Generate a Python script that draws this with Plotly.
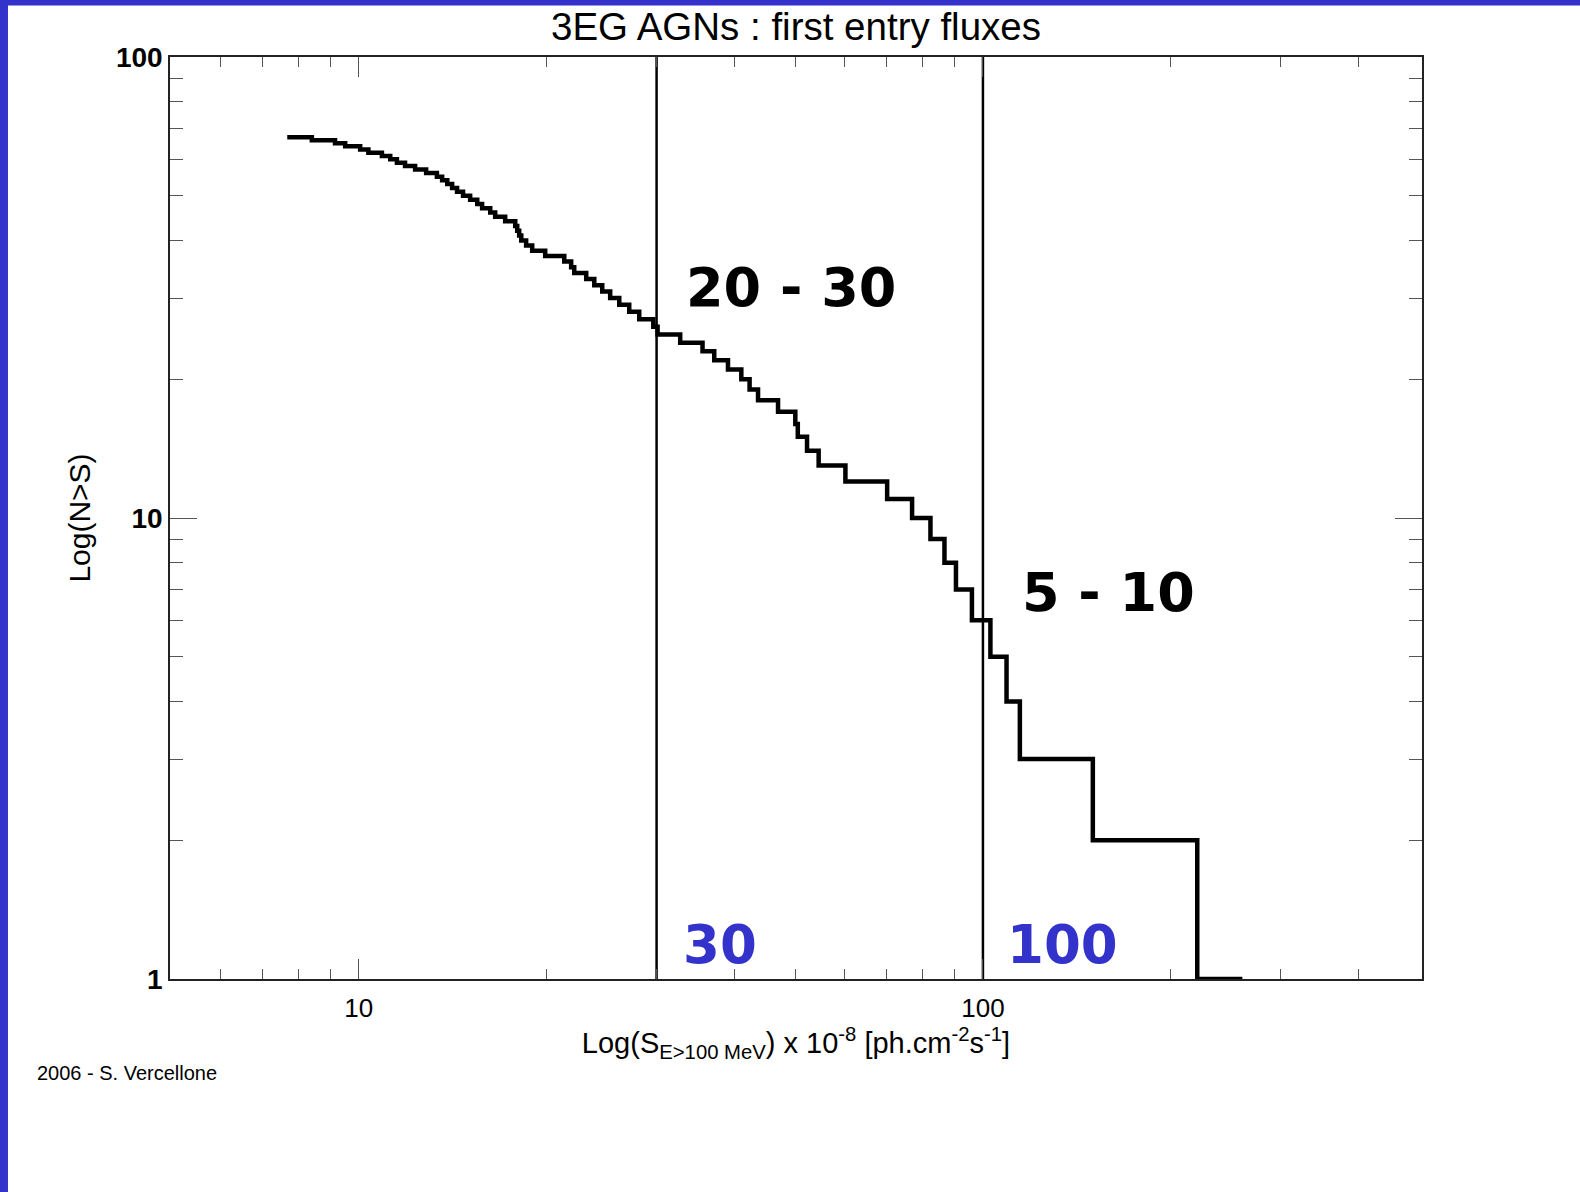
import numpy as np
import plotly.graph_objects as go

# ---- data ----
flux_edges = [7.68, 8.41, 9.16, 9.51, 10.05, 10.36, 10.89, 11.23, 11.51, 11.86,
              12.31, 12.82, 13.34, 13.60, 13.86, 14.11, 14.37, 14.69, 15.08, 15.48,
              15.76, 16.24, 16.54, 17.16, 17.81, 17.94, 18.07, 18.21, 18.54, 18.96,
              19.89, 21.34, 21.89, 22.14, 23.14, 23.84, 24.55, 25.28, 26.14, 27.12,
              28.14, 29.64, 30.11, 32.73, 35.54, 37.11, 39.04, 41.01, 42.28, 43.62,
              46.96, 50.05, 50.51, 52.26, 54.55, 60.21, 70.23, 77.00, 82.40, 86.77,
              90.53, 96.02, 102.8, 109.1, 114.6, 150.0, 220.5]
counts = [67, 66, 65, 64, 63, 62, 61, 60, 59, 58,
          57, 56, 55, 54, 53, 52, 51, 50, 49, 48,
          47, 46, 45, 44, 43, 42, 41, 40, 39, 38,
          37, 36, 35, 34, 33, 32, 31, 30, 29, 28,
          27, 26, 25, 24, 23, 22, 21, 20, 19, 18,
          17, 16, 15, 14, 13, 12, 11, 10, 9, 8,
          7, 6, 5, 4, 3, 2, 1]
max_flux = 260.4
threshold_fluxes = [30, 100]
x_major = [10, 100]
x_minor = [6, 7, 8, 9, 20, 30, 40, 50, 60, 70, 80, 90, 200, 300, 400]
y_major = [1, 10, 100]
y_minor = [2, 3, 4, 5, 6, 7, 8, 9, 20, 30, 40, 50, 60, 70, 80, 90]
range_labels = ["20 - 30", "5 - 10"]
range_label_pos = [(49.3, 31.7), (159.2, 6.89)]
threshold_labels = ["30", "100"]
threshold_label_pos = [(37.95, 1.19), (134.1, 1.19)]

BLUE = "#3333CC"
FONT = "Liberation Sans, Arial, sans-serif"
BOLDFONT = "DejaVu Sans, Verdana, sans-serif"

fig = go.Figure()

fig.add_trace(go.Scatter(
    x=flux_edges + [max_flux],
    y=counts + [counts[-1]],
    mode="lines", line=dict(color="black", width=4.5, shape="hv"),
    showlegend=False, hoverinfo="skip"))

for f in threshold_fluxes:
    fig.add_trace(go.Scatter(
        x=[f, f], y=[y_major[0], y_major[-1]],
        mode="lines", line=dict(color="black", width=2.5),
        showlegend=False, hoverinfo="skip"))

for txt, (xv, yv) in zip(range_labels, range_label_pos):
    fig.add_annotation(x=np.log10(xv), y=np.log10(yv), xref="x", yref="y",
                       text=txt, showarrow=False, xanchor="center", yanchor="middle",
                       font=dict(family=BOLDFONT, size=54, color="black", weight="bold"))
for txt, (xv, yv) in zip(threshold_labels, threshold_label_pos):
    fig.add_annotation(x=np.log10(xv), y=np.log10(yv), xref="x", yref="y",
                       text=txt, showarrow=False, xanchor="center", yanchor="middle",
                       font=dict(family=BOLDFONT, size=53, color=BLUE, weight="bold"))

# credit line, placed in the lower-left margin (paper coords relative to plot area)
fig.add_annotation(x=-0.108, y=-0.102, xref="paper", yref="paper",
                   text="2006 - S. Vercellone", showarrow=False,
                   xanchor="left", yanchor="middle",
                   font=dict(family=FONT, size=20, color="black"))

# page border (blue frame on left and top)
fig.add_shape(type="rect", xref="paper", yref="paper",
              x0=-0.2, x1=-0.1294, y0=-0.3, y1=1.2,
              fillcolor=BLUE, line=dict(width=0), layer="above")
fig.add_shape(type="rect", xref="paper", yref="paper",
              x0=-0.2, x1=1.2, y0=1.0558, y1=1.2,
              fillcolor=BLUE, line=dict(width=0), layer="above")

fig.update_layout(
    width=1580, height=1192,
    margin=dict(l=170, r=158, t=56.5, b=213, autoexpand=False),
    paper_bgcolor="white", plot_bgcolor="white",
    title=dict(text="3EG AGNs : first entry fluxes", x=0.5, xref="paper",
               y=1 - 27 / 1192, yref="container", xanchor="center", yanchor="middle",
               font=dict(family=FONT, size=38.5, color="black")),
    xaxis=dict(type="log", range=[0.6975, 2.7035], showgrid=False, zeroline=False,
               showline=True, linecolor="#222", linewidth=1.5, mirror="allticks",
               ticks="inside", ticklen=20, tickwidth=1, tickcolor="#555",
               tickmode="array", tickvals=x_major, ticktext=["10", "100"],
               ticklabelstandoff=5,
               tickfont=dict(family=FONT, size=26, color="black"),
               minor=dict(tickmode="array", tickvals=x_minor, ticks="inside",
                          ticklen=10, tickwidth=1, tickcolor="#555", showgrid=False),
               title=dict(text="Log(S<sub>E>100 MeV</sub>) x 10<sup>-8</sup> [ph.cm<sup>-2</sup>s<sup>-1</sup>]",
                          standoff=2, font=dict(family=FONT, size=29, color="black"))),
    yaxis=dict(type="log", range=[0, 2], showgrid=False, zeroline=False,
               showline=True, linecolor="#222", linewidth=1.5, mirror="allticks",
               ticks="inside", ticklen=27, tickwidth=1, tickcolor="#555",
               tickmode="array", tickvals=y_major, ticktext=["1", "10", "100"],
               ticklabelstandoff=0,
               tickfont=dict(family=FONT, size=28, color="black", weight="bold"),
               minor=dict(tickmode="array", tickvals=y_minor, ticks="inside",
                          ticklen=13, tickwidth=1, tickcolor="#555", showgrid=False),
               title=dict(text="Log(N>S)", standoff=16,
                          font=dict(family=FONT, size=30, color="black"))),
)

fig.write_html("out.html")
